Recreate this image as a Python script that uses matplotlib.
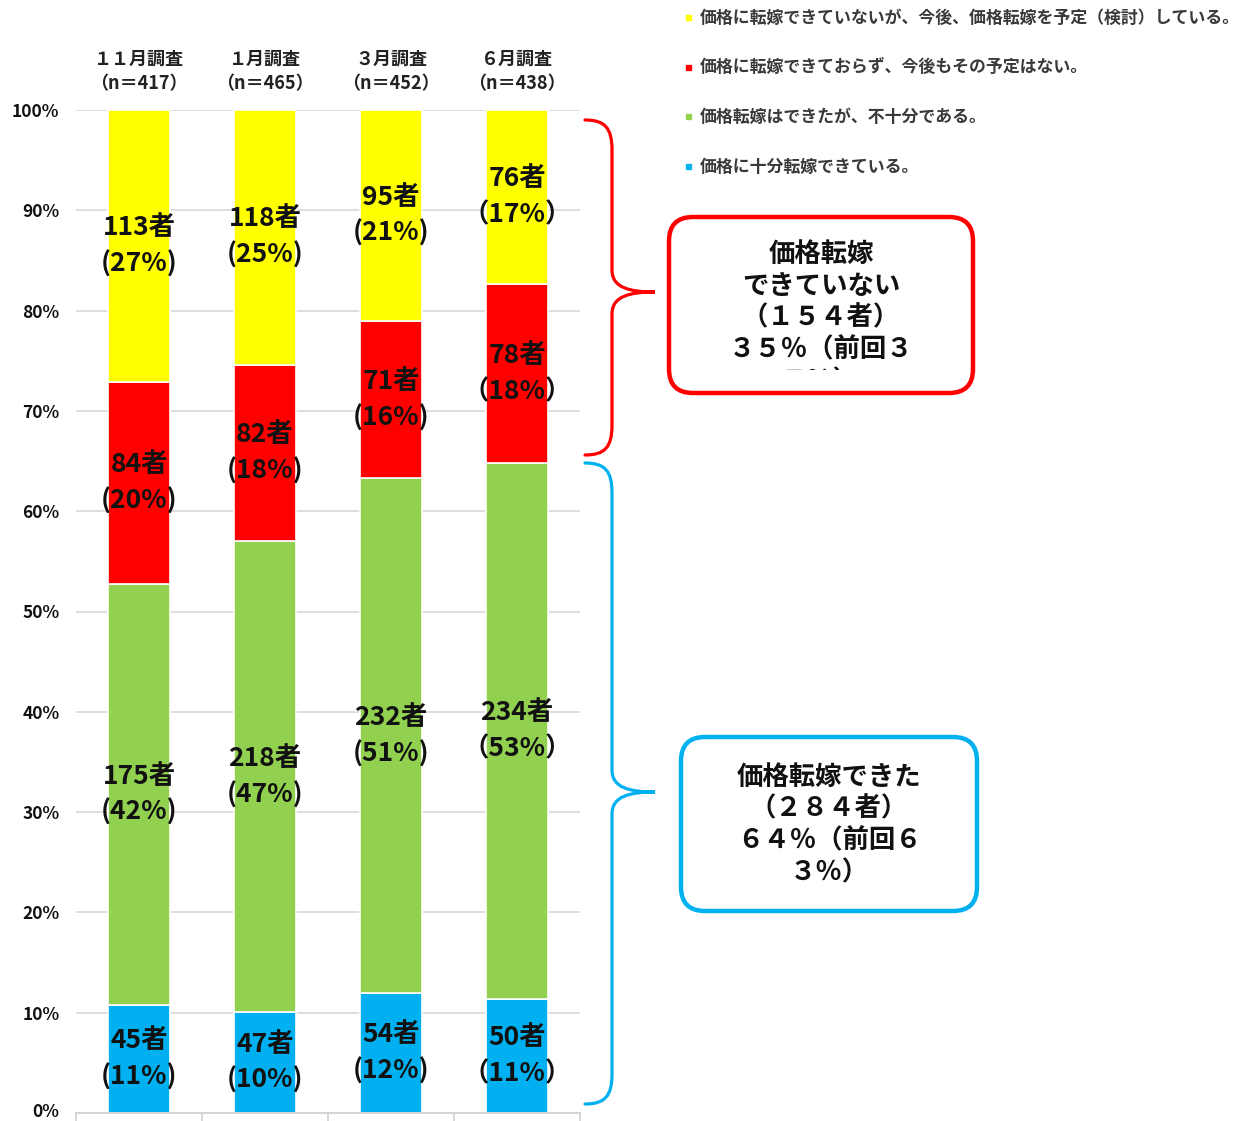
import numpy as np
import matplotlib.pyplot as plt
import matplotlib.transforms as mtransforms
from matplotlib.patches import FancyBboxPatch, PathPatch, Rectangle
from matplotlib.path import Path

plt.rcParams['font.family'] = ['Noto Sans CJK JP', 'DejaVu Sans']

surveys = ['１１月調査', '１月調査', '３月調査', '６月調査']
totals = [417, 465, 452, 438]

# counts per answer, bottom to top
full_pass = [45, 47, 54, 50]        # 価格に十分転嫁できている
partial_pass = [175, 218, 232, 234]  # 価格転嫁はできたが、不十分である
no_plan = [84, 82, 71, 78]           # 転嫁できておらず、予定もない
planned = [113, 118, 95, 76]         # 転嫁できていないが、予定している

series = [full_pass, partial_pass, no_plan, planned]
colors = ['#00B0F0', '#92D050', '#FF0000', '#FFFF00']
legend_labels = [
    '価格に転嫁できていないが、今後、価格転嫁を予定（検討）している。',
    '価格に転嫁できておらず、今後もその予定はない。',
    '価格転嫁はできたが、不十分である。',
    '価格に十分転嫁できている。',
]
legend_colors = ['#FFFF00', '#FF0000', '#92D050', '#00B0F0']

W, H = 1244, 1121
fig = plt.figure(figsize=(W / 100, H / 100), dpi=100)
ax = fig.add_axes([76 / W, 1 - 1113 / H, 504 / W, 1003 / H])

x = np.arange(len(surveys))
tot = np.array(totals, dtype=float)
bottom = np.zeros(len(surveys))
for k, (vals, col) in enumerate(zip(series, colors)):
    share = np.array(vals) / tot * 100
    ax.bar(x, share, 0.49, bottom=bottom, color=col, edgecolor='white',
           linewidth=1.2, zorder=3)
    for i in range(len(surveys)):
        pct = int(round(share[i]))
        if i == 3:
            txt = f'{vals[i]}者\n（{pct}%）'
        else:
            txt = f'{vals[i]}者\n({pct}%)'
        ax.text(x[i], bottom[i] + share[i] / 2, txt, ha='center', va='center',
                fontsize=19, fontweight='bold', color='#111111',
                linespacing=1.45, zorder=4)
    bottom += share

ax.set_xlim(-0.5, 3.5)
ax.set_ylim(0, 100)
ax.set_yticks(np.arange(0, 101, 10))
ax.set_yticklabels([f'{v}%' for v in range(0, 101, 10)], fontsize=12.5,
                   fontweight='bold', color='#111111')
ax.tick_params(axis='y', length=0, pad=12)
# keep the 0% label inside the figure
lbl0 = ax.get_yticklabels()[0]
lbl0.set_transform(lbl0.get_transform() +
                   mtransforms.ScaledTranslation(0, 3 / 100, fig.dpi_scale_trans))
ax.set_xticks([-0.5, 0.5, 1.5, 2.5, 3.5])
ax.set_xticklabels([])
ax.tick_params(axis='x', direction='out', length=8, color='#d0d0d0', width=1.2)
ax.grid(axis='y', color='#d9d9d9', linewidth=1.2, zorder=0)
for s in ['top', 'right', 'left']:
    ax.spines[s].set_visible(False)
ax.spines['bottom'].set_color('#d0d0d0')
ax.spines['bottom'].set_linewidth(1.2)
ax.spines['bottom'].set_zorder(5)

# survey headers above the bars
for i, (name, n) in enumerate(zip(surveys, totals)):
    ax.annotate(f'{name}\n（n＝{n}）', xy=(x[i], 100), xycoords='data',
                xytext=(0, 12), textcoords='offset points', ha='center',
                va='bottom', fontsize=13, fontweight='bold', color='#222222',
                linespacing=1.4, annotation_clip=False)

# overlay in pixel units for legend, braces and callouts
ov = fig.add_axes([0, 0, 1, 1], zorder=10)
ov.set_xlim(0, W)
ov.set_ylim(H, 0)
ov.axis('off')
ov.patch.set_alpha(0)

for j, (lab, col) in enumerate(zip(legend_labels, legend_colors)):
    yy = 17 + j * 49.5
    ov.add_patch(Rectangle((686, yy - 2), 5, 5, color=col))
    ov.text(700, yy + 1, lab, fontsize=12.2, fontweight='bold', color='#3a3a3a',
            va='center', ha='left')


def brace(y0, ym, y1, color):
    xe, xs, xt = 585, 612, 655
    r = 22
    verts = [(xe, y0), (xe + 20, y0), (xs, y0 + 8), (xs, y0 + r + 8),
             (xs, ym - r),
             (xs, ym - 4), (xt - 25, ym), (xt, ym),
             (xt - 25, ym), (xs, ym + 4), (xs, ym + r),
             (xs, y1 - r - 8),
             (xs, y1 - 8), (xe + 20, y1), (xe, y1)]
    codes = [Path.MOVETO] + [Path.CURVE4] * 3 + [Path.LINETO] + \
            [Path.CURVE4] * 3 + [Path.CURVE4] * 3 + [Path.LINETO] + \
            [Path.CURVE4] * 3
    ov.add_patch(PathPatch(Path(verts, codes), fill=False, edgecolor=color,
                           linewidth=2.3, capstyle='round'))


brace(120, 292, 455, '#FF0000')
brace(463, 792, 1104, '#00B0F0')

# callout boxes: white face below the text, outline above it
box_style = 'round,pad=0,rounding_size=24'
red_xy, red_wh = (669, 217), (304, 176)
blue_xy, blue_wh = (681, 737), (296, 174)
for xy, wh in [(red_xy, red_wh), (blue_xy, blue_wh)]:
    ov.add_patch(FancyBboxPatch(xy, *wh, boxstyle=box_style, facecolor='white',
                                edgecolor='none', zorder=1))

red_lines = ['価格転嫁', 'できていない', '（１５４者）', '３５％（前回３', '７％）']
for k, line in enumerate(red_lines):
    ov.text(821, 254 + k * 32, line, ha='center', va='center', fontsize=19,
            fontweight='bold', color='#111111', zorder=2)
# the last line overflows the box and is hidden under its lower margin
ov.add_patch(Rectangle((672, 370), 298, 21, facecolor='white', edgecolor='none',
                       zorder=3))

blue_lines = ['価格転嫁できた', '（２８４者）', '６４％（前回６', '３％）']
for k, line in enumerate(blue_lines):
    ov.text(829, 777 + k * 32, line, ha='center', va='center', fontsize=19,
            fontweight='bold', color='#111111', zorder=2)

ov.add_patch(FancyBboxPatch(red_xy, *red_wh, boxstyle=box_style, facecolor='none',
                            edgecolor='#FF0000', linewidth=3.2, zorder=4))
ov.add_patch(FancyBboxPatch(blue_xy, *blue_wh, boxstyle=box_style, facecolor='none',
                            edgecolor='#00B0F0', linewidth=3.2, zorder=4))

fig.savefig('out.png', dpi=100)
